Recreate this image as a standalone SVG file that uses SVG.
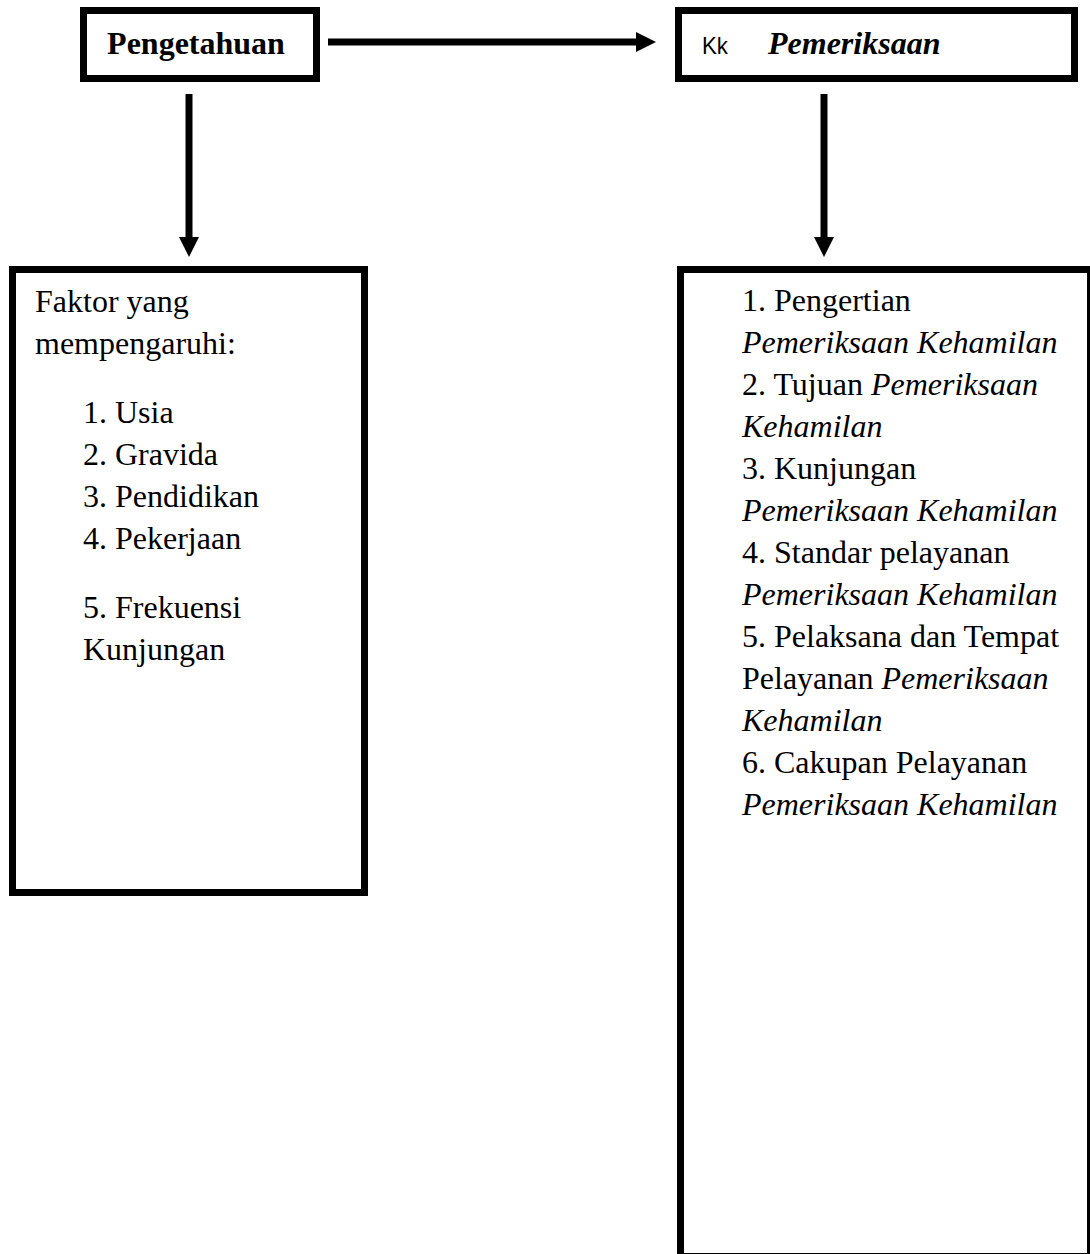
<svg xmlns="http://www.w3.org/2000/svg" width="1090" height="1254" viewBox="0 0 1090 1254">
<style>
.box{fill:#fff;stroke:#000;stroke-width:7}
.t{font-family:"Liberation Serif","Times New Roman",serif;font-size:32px;fill:#000}
.i{font-style:italic}
.b{font-weight:bold}
.s{font-family:"Liberation Sans",Arial,sans-serif;font-size:24px;fill:#000}
.c{stroke:#000;stroke-width:7;fill:none;marker-end:url(#ah)}
</style>
<defs>
<marker id="ah" markerUnits="userSpaceOnUse" markerWidth="20" markerHeight="20" refX="4" refY="10" orient="auto">
<path d="M0,0 L20,10 L0,20 z" fill="#000"/>
</marker>
</defs>
<rect width="1090" height="1254" fill="#fff"/>
<g id="connectors">
<line class="c" x1="328" y1="42" x2="640" y2="42"/>
<line class="c" x1="189" y1="94" x2="189" y2="241"/>
<line class="c" x1="824" y1="94" x2="824" y2="241"/>
</g>
<g id="pengetahuan">
<rect class="box" x="83.5" y="10.5" width="233" height="68"/>
<text class="t b" x="196" y="54" text-anchor="middle">Pengetahuan</text>
</g>
<g id="pemeriksaan">
<rect class="box" x="678.5" y="10.5" width="396" height="68"/>
<text class="s" x="702" y="54" textLength="26" lengthAdjust="spacingAndGlyphs">Kk</text>
<text class="t b i" x="768" y="54">Pemeriksaan</text>
</g>
<g id="faktor">
<rect class="box" x="12.5" y="269.5" width="352" height="623"/>
<text class="t" x="35" y="312">Faktor yang</text>
<text class="t" x="35" y="354">mempengaruhi:</text>
<text class="t" x="83" y="423">1. Usia</text>
<text class="t" x="83" y="465">2. Gravida</text>
<text class="t" x="83" y="507">3. Pendidikan</text>
<text class="t" x="83" y="549">4. Pekerjaan</text>
<text class="t" x="83" y="618">5. Frekuensi</text>
<text class="t" x="83" y="660">Kunjungan</text>
</g>
<g id="materi">
<rect class="box" x="680.5" y="269.5" width="410" height="987"/>
<text class="t" x="742" y="311">1. Pengertian</text>
<text class="t i" x="742" y="353">Pemeriksaan Kehamilan</text>
<text class="t" x="742" y="395">2. Tujuan <tspan class="i">Pemeriksaan</tspan></text>
<text class="t i" x="742" y="437">Kehamilan</text>
<text class="t" x="742" y="479">3. Kunjungan</text>
<text class="t i" x="742" y="521">Pemeriksaan Kehamilan</text>
<text class="t" x="742" y="563">4. Standar pelayanan</text>
<text class="t i" x="742" y="605">Pemeriksaan Kehamilan</text>
<text class="t" x="742" y="647">5. Pelaksana dan Tempat</text>
<text class="t" x="742" y="689">Pelayanan <tspan class="i">Pemeriksaan</tspan></text>
<text class="t i" x="742" y="731">Kehamilan</text>
<text class="t" x="742" y="773">6. Cakupan Pelayanan</text>
<text class="t i" x="742" y="815">Pemeriksaan Kehamilan</text>
</g>
</svg>
